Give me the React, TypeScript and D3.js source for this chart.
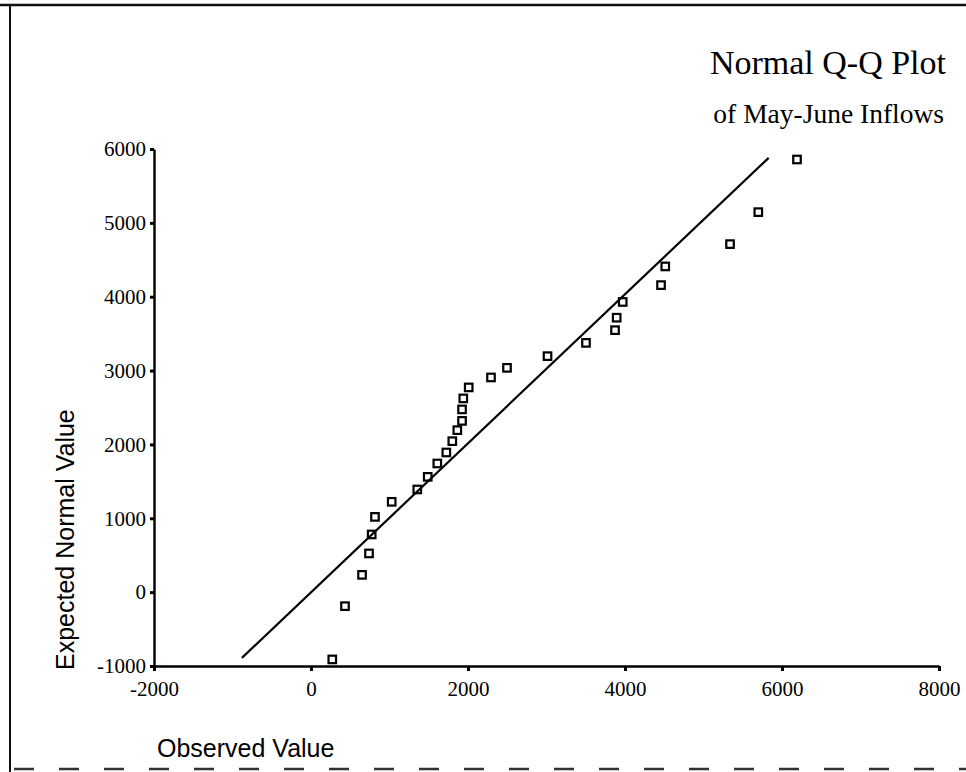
import { useEffect, useRef } from 'react';
import * as d3 from 'd3';

// observed inflow vs expected normal value
const observedValues = [
    271, 433, 650, 739, 773, 815, 1028, 1354, 1487, 1609, 1724, 1800, 1864, 1924, 1924, 1940, 2009, 2293, 2497,
    3013, 3503, 3873, 3894, 3971, 4459, 4513, 5338, 5698, 6191,
];
const expectedValues = [
    -911, -190, 234, 524, 781, 1019, 1223, 1390, 1561, 1742, 1891, 2044, 2193, 2319, 2474, 2623, 2772, 2907, 3037,
    3195, 3375, 3547, 3716, 3929, 4157, 4410, 4712, 5145, 5858,
];

// reference line ends
const lineObserved = [-880, 5830];
const lineExpected = [-890, 5880];

const xTicks = [-2000, 0, 2000, 4000, 6000, 8000];
const yTicks = [-1000, 0, 1000, 2000, 3000, 4000, 5000, 6000];

const WIDTH = 966;
const HEIGHT = 772;
const SERIF = '"Liberation Serif", "Times New Roman", serif';
const SANS = '"Liberation Sans", Arial, sans-serif';

export default function App() {
    const svgRef = useRef<SVGSVGElement | null>(null);

    useEffect(() => {
        if (!svgRef.current) {
            return;
        }
        const svg = d3.select(svgRef.current);
        svg.selectAll('*').remove();

        const x = d3.scaleLinear().domain([-2000, 8000]).range([154, 939]);
        const y = d3.scaleLinear().domain([-1000, 6000]).range([666, 149]);

        svg.append('rect').attr('width', WIDTH).attr('height', HEIGHT).attr('fill', '#fff');

        // page frame
        svg.append('line').attr('x1', 0).attr('x2', WIDTH).attr('y1', 5).attr('y2', 5)
            .attr('stroke', '#111').attr('stroke-width', 2.5);
        svg.append('line').attr('x1', 10).attr('x2', 10).attr('y1', 5).attr('y2', HEIGHT)
            .attr('stroke', '#111').attr('stroke-width', 2);
        svg.append('line').attr('x1', 14).attr('x2', WIDTH).attr('y1', 769).attr('y2', 769)
            .attr('stroke', '#333').attr('stroke-width', 2.5).attr('stroke-dasharray', '20 25');

        // titles
        svg.append('text').text('Normal Q-Q Plot')
            .attr('x', 946).attr('y', 74).attr('text-anchor', 'end')
            .attr('font-family', SERIF).attr('font-size', 34).attr('fill', '#000');
        svg.append('text').text('of May-June Inflows')
            .attr('x', 944).attr('y', 123).attr('text-anchor', 'end')
            .attr('font-family', SERIF).attr('font-size', 27.5).attr('fill', '#000');

        // axes
        const xAxis = svg.append('g')
            .attr('transform', `translate(0, ${y(-1000)})`)
            .call(d3.axisBottom(x).tickValues(xTicks).tickSize(5).tickSizeOuter(0).tickPadding(10).tickFormat(d3.format('d')));
        const yAxis = svg.append('g')
            .attr('transform', `translate(${x(-2000)}, 0)`)
            .call(d3.axisLeft(y).tickValues(yTicks).tickSize(4).tickSizeOuter(0).tickPadding(4).tickFormat(d3.format('d')));

        [xAxis, yAxis].forEach((axis) => {
            axis.select('.domain').attr('stroke', '#000').attr('stroke-width', 2.4);
            axis.selectAll('.tick line').attr('stroke', '#000').attr('stroke-width', 3);
            axis.selectAll('.tick text')
                .attr('fill', '#000')
                .attr('font-family', SERIF)
                .attr('font-size', 21);
        });
        xAxis.selectAll<SVGTextElement, number>('.tick text').text((d) => (d < 0 ? `-${Math.abs(d)}` : `${d}`));
        yAxis.selectAll<SVGTextElement, number>('.tick text').text((d) => (d < 0 ? `-${Math.abs(d)}` : `${d}`));

        // axis titles
        svg.append('text').text('Observed Value')
            .attr('x', 157).attr('y', 757)
            .attr('font-family', SANS).attr('font-size', 25).attr('fill', '#000');
        svg.append('text').text('Expected Normal Value')
            .attr('transform', 'translate(74, 670) rotate(-90)')
            .attr('font-family', SANS).attr('font-size', 25).attr('fill', '#000');

        // reference line
        svg.append('line')
            .attr('x1', x(lineObserved[0])).attr('y1', y(lineExpected[0]))
            .attr('x2', x(lineObserved[1])).attr('y2', y(lineExpected[1]))
            .attr('stroke', '#000').attr('stroke-width', 2.2);

        // observations
        const points = observedValues.map((value, index) => ({ observed: value, expected: expectedValues[index] }));
        const side = 7.5;
        svg.append('g')
            .selectAll('rect')
            .data(points)
            .join('rect')
            .attr('x', (d) => x(d.observed) - side / 2)
            .attr('y', (d) => y(d.expected) - side / 2)
            .attr('width', side)
            .attr('height', side)
            .attr('fill', 'none')
            .attr('stroke', '#000')
            .attr('stroke-width', 2.2);
    }, []);

    return (
        <div style={{ position: 'absolute', left: 0, top: 0 }}>
            <svg ref={svgRef} width={WIDTH} height={HEIGHT} role="img" aria-label="Normal Q-Q plot of May-June inflows" />
        </div>
    );
}
